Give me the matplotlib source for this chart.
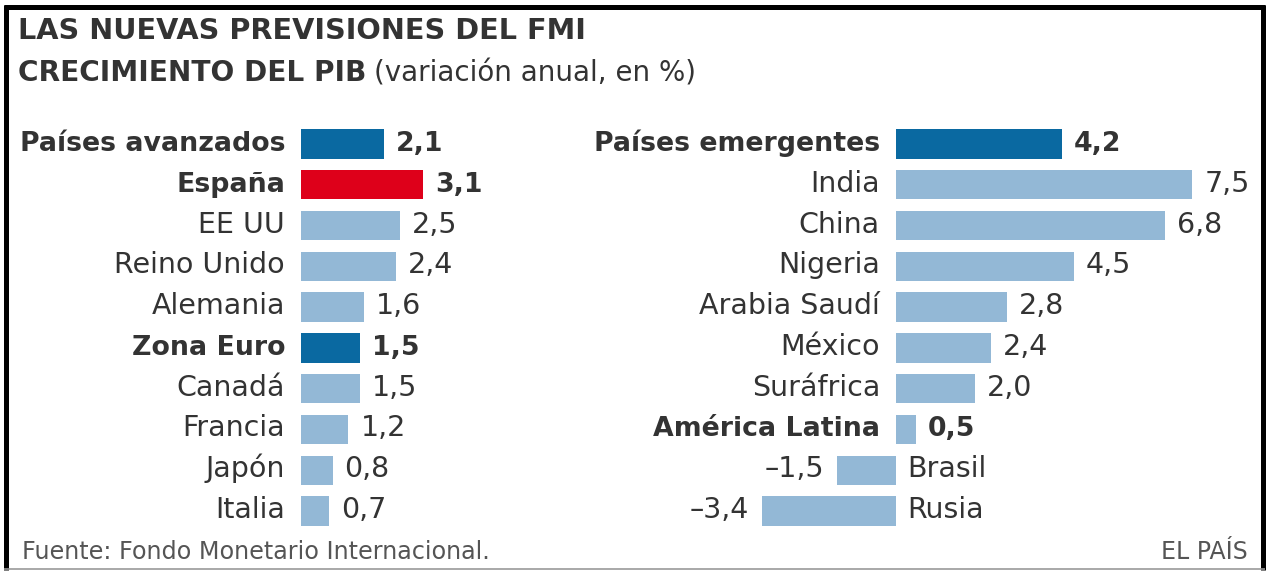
import matplotlib.pyplot as plt
from matplotlib.lines import Line2D

# datos (crecimiento del PIB, %)
left_labels = ['Países avanzados', 'España', 'EE UU', 'Reino Unido', 'Alemania',
               'Zona Euro', 'Canadá', 'Francia', 'Japón', 'Italia']
left_values = [2.1, 3.1, 2.5, 2.4, 1.6, 1.5, 1.5, 1.2, 0.8, 0.7]

right_labels = ['Países emergentes', 'India', 'China', 'Nigeria', 'Arabia Saudí',
                'México', 'Suráfrica', 'América Latina', 'Brasil', 'Rusia']
right_values = [4.2, 7.5, 6.8, 4.5, 2.8, 2.4, 2.0, 0.5, -1.5, -3.4]

left_bold = ['Países avanzados', 'España', 'Zona Euro']
right_bold = ['Países emergentes', 'América Latina']

DARK = '#0a69a1'
RED = '#de001a'
LIGHT = '#93b8d6'
TXT = '#333333'

left_colors = [DARK, RED, LIGHT, LIGHT, LIGHT, DARK, LIGHT, LIGHT, LIGHT, LIGHT]
right_colors = [DARK] + [LIGHT] * 9

W, H = 1266, 572
plt.rcParams['font.family'] = ['DejaVu Sans']
fig = plt.figure(figsize=(W / 100, H / 100), dpi=100)

PX = 39.5          # pixels per unit
ROW_TOP, ROW_BOT = 123.6, 531.4


def px_axes(x0, x1):
    return fig.add_axes([x0 / W, 1 - ROW_BOT / H, (x1 - x0) / W, (ROW_BOT - ROW_TOP) / H])


def fmt(v):
    s = f'{abs(v):.1f}'.replace('.', ',')
    return ('\u2013' + s) if v < 0 else s


def pt(p):
    return p * 72 / 100.


def panel(ax, labels, values, colors, bold):
    ax.barh(range(len(values)), values, height=0.72, color=colors)
    ax.set_ylim(len(values) - 0.5, -0.5)
    ax.axis('off')
    for i, (lab, v) in enumerate(zip(labels, values)):
        w = 'bold' if lab in bold else 'normal'
        fs = 19.3 if lab in bold else 20.5
        if v >= 0:
            ax.annotate(lab, xy=(0, i), xytext=(-pt(16), -pt(7)), textcoords='offset points',
                        ha='right', va='baseline', fontsize=fs, fontweight=w, color=TXT)
            ax.annotate(fmt(v), xy=(v, i), xytext=(pt(12), -pt(7)), textcoords='offset points',
                        ha='left', va='baseline', fontsize=fs, fontweight=w, color=TXT)
        else:
            ax.annotate(lab, xy=(0, i), xytext=(pt(11), -pt(7)), textcoords='offset points',
                        ha='left', va='baseline', fontsize=fs, fontweight=w, color=TXT)
            ax.annotate(fmt(v), xy=(v, i), xytext=(-pt(13), -pt(7)), textcoords='offset points',
                        ha='right', va='baseline', fontsize=fs, fontweight=w, color=TXT)


axl = px_axes(301, 301 + 4 * PX)
axl.set_xlim(0, 4)
panel(axl, left_labels, left_values, left_colors, left_bold)

axr = px_axes(896 - 4 * PX, 896 + 8 * PX)
axr.set_xlim(-4, 8)
panel(axr, right_labels, right_values, right_colors, right_bold)

# titulos
fig.text(18 / W, 1 - 39 / H, 'LAS NUEVAS PREVISIONES DEL FMI', fontsize=20.7,
         fontweight='bold', color=TXT, ha='left', va='baseline')
t1 = fig.text(18 / W, 1 - 81 / H, 'CRECIMIENTO DEL PIB', fontsize=20.2,
              fontweight='bold', color=TXT, ha='left', va='baseline')
fig.canvas.draw()
bb = t1.get_window_extent()
fig.text((bb.x1 + 8) / W, 1 - 81 / H, '(variación anual, en %)', fontsize=20,
         color=TXT, ha='left', va='baseline')

fig.text(22 / W, 1 - 559 / H, 'Fuente: Fondo Monetario Internacional.', fontsize=17.2,
         color='#555555', ha='left', va='baseline')
fig.text(1248 / W, 1 - 559 / H, 'EL PAÍS', fontsize=17,
         color='#555555', ha='right', va='baseline')

# marco
def fline(xs, ys, lw, c):
    fig.add_artist(Line2D([x / W for x in xs], [1 - y / H for y in ys], lw=lw, color=c,
                          transform=fig.transFigure, solid_capstyle='butt'))

fline([4, 1265], [7, 7], 3.6, 'black')
fline([6, 6], [5, 570], 3.6, 'black')
fline([1263, 1263], [5, 570], 3.6, 'black')
fline([4, 1265], [569, 569], 1.2, '#999999')

fig.savefig('out.png', dpi=100)
